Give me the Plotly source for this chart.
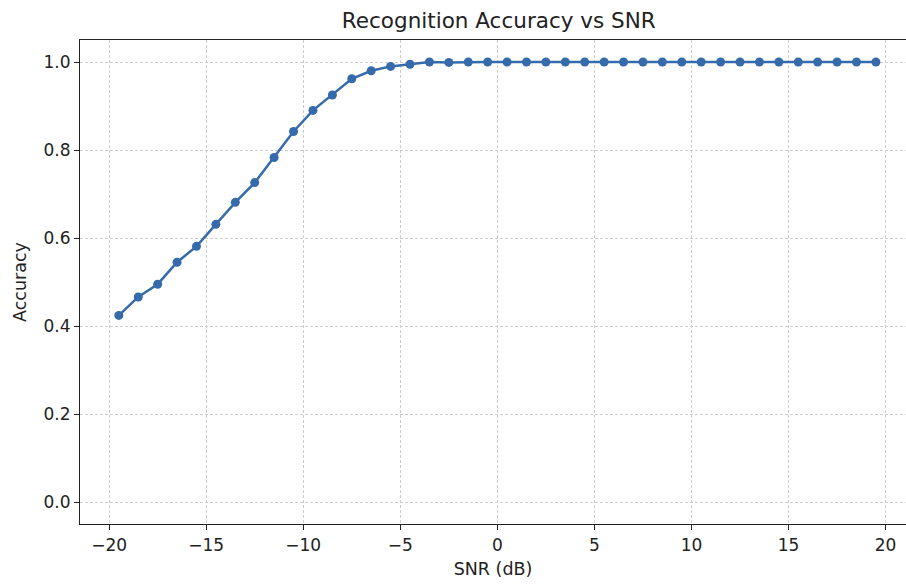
import plotly.graph_objects as go

snr = [-19.5 + i for i in range(40)]
accuracy = [0.424, 0.466, 0.495, 0.545, 0.581, 0.631, 0.681, 0.726, 0.783, 0.842,
            0.890, 0.925, 0.962, 0.980, 0.990, 0.995, 1.000, 0.999, 1.000, 1.000,
            1.000, 1.000, 1.000, 1.000, 1.000, 1.000, 1.000, 1.000, 1.000, 1.000,
            1.000, 1.000, 1.000, 1.000, 1.000, 1.000, 1.000, 1.000, 1.000, 1.000]
x_ticks = [-20, -15, -10, -5, 0, 5, 10, 15, 20]
x_ticktext = ["\u221220", "\u221215", "\u221210", "\u22125", "0", "5", "10", "15", "20"]
y_ticks = [0.0, 0.2, 0.4, 0.6, 0.8, 1.0]
y_ticktext = ["0.0", "0.2", "0.4", "0.6", "0.8", "1.0"]

color = "#356BAA"
font = "DejaVu Sans"

fig = go.Figure()
fig.add_trace(go.Scatter(
    x=snr, y=accuracy, mode="lines+markers",
    line=dict(color=color, width=2.5),
    marker=dict(color=color, size=9),
    showlegend=False,
))

axis_common = dict(
    showgrid=True, gridcolor="#cccccc", gridwidth=0.8, griddash="3px,2px",
    showline=True, linecolor="#222222", linewidth=1.2,
    ticks="outside", ticklen=5, tickwidth=1, tickcolor="#222222",
    tickfont=dict(family=font, size=17, color="#222222"),
    zeroline=False,
)

fig.update_layout(
    width=906, height=584,
    margin=dict(l=80, r=0, t=40, b=60),
    paper_bgcolor="white", plot_bgcolor="white",
    font=dict(family=font, color="#222222"),
    title=dict(text="Recognition Accuracy vs SNR", x=0.507, xref="paper",
               y=1 - 20 / 584, yref="container", yanchor="middle",
               xanchor="center", font=dict(family=font, size=21.5, color="#222222")),
    xaxis=dict(range=[-21.5, 21.05], tickvals=x_ticks, ticktext=x_ticktext,
               mirror=True,
               title=dict(text="SNR (dB)", font=dict(family=font, size=17.5), standoff=9),
               **axis_common),
    yaxis=dict(range=[-0.05, 1.05], tickvals=y_ticks, ticktext=y_ticktext,
               title=dict(text="Accuracy", font=dict(family=font, size=17.5), standoff=12),
               **axis_common),
)

fig.write_html("out.html", config={"displayModeBar": False},
               post_script="document.body.style.margin='0';")
